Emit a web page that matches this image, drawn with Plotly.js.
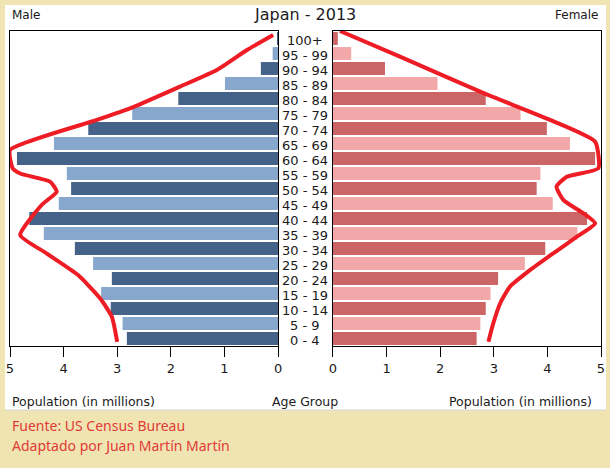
<!DOCTYPE html>
<html>
<head>
<meta charset="utf-8">
<script src="https://cdn.plot.ly/plotly-3.0.1.min.js"></script>
<style>html,body{margin:0;padding:0;background:#f0e4b3;}#chart{width:610px;height:468px;}</style>
</head>
<body>
<div id="chart"></div>
<script>
// Age groups from youngest (bottom) to oldest (top)
const ageGroups = ["0 - 4","5 - 9","10 - 14","15 - 19","20 - 24","25 - 29","30 - 34","35 - 39","40 - 44","45 - 49","50 - 54","55 - 59","60 - 64","65 - 69","70 - 74","75 - 79","80 - 84","85 - 89","90 - 94","95 - 99","100+"];
// Population in millions
const male   = [2.82,2.90,3.12,3.30,3.10,3.45,3.79,4.37,4.64,4.09,3.86,3.94,4.87,4.18,3.54,2.72,1.86,0.99,0.32,0.10,0.02];
const female = [2.68,2.75,2.85,2.94,3.08,3.58,3.96,4.56,4.74,4.10,3.80,3.87,4.89,4.42,3.99,3.50,2.85,1.95,0.97,0.34,0.09];
// Hand-drawn red outline (value in millions, position in age-group units)
const maleLineX   = [3.00,3.10,3.32,3.73,4.32,4.81,4.41,4.13,4.25,4.81,4.95,5.00,3.38,2.70,1.83,1.14,0.58,0.09];
const maleLineY   = [-0.23,1.45,2.68,4.23,5.68,6.90,8.90,9.79,10.45,11.00,11.35,12.57,14.57,15.43,16.79,17.90,19.23,20.23];
const femaleLineX = [2.90,2.99,3.12,3.30,3.68,4.11,4.55,4.89,4.67,4.30,4.17,4.36,4.95,4.89,4.05,2.80,1.25,0.13];
const femaleLineY = [-0.21,1.01,2.35,3.45,4.57,5.68,6.79,7.68,8.35,9.23,10.12,10.78,11.35,13.12,14.57,16.37,18.79,20.50];
const tickVals = [0,1,2,3,4,5];

const yPos = ageGroups.map((_, i) => i);
const maleColors = yPos.map(i => i % 2 === 0 ? '#456288' : '#88a7cc');
const femaleColors = yPos.map(i => i % 2 === 0 ? '#cc6666' : '#f2a8a8');

const traces = [
  {type:'bar', orientation:'h', x:male, y:yPos, xaxis:'x', yaxis:'y',
   marker:{color:maleColors, line:{width:0}}, hoverinfo:'none'},
  {type:'bar', orientation:'h', x:female, y:yPos, xaxis:'x2', yaxis:'y2',
   marker:{color:femaleColors, line:{width:0}}, hoverinfo:'none'},
  {type:'scatter', mode:'lines', x:maleLineX, y:maleLineY, xaxis:'x', yaxis:'y',
   line:{color:'#ee1c24', width:4, shape:'spline', smoothing:0.5}, hoverinfo:'none'},
  {type:'scatter', mode:'lines', x:femaleLineX, y:femaleLineY, xaxis:'x2', yaxis:'y2',
   line:{color:'#ee1c24', width:4, shape:'spline', smoothing:0.5}, hoverinfo:'none'}
];

const fnt = {family:'DejaVu Sans', size:13, color:'#1a1a1a'};
const annotations = ageGroups.map((g, i) => ({
  xref:'paper', yref:'y', x:0.4992, y:i - 0.13, text:g, showarrow:false,
  xanchor:'center', yanchor:'middle', font:fnt
}));
annotations.push(
  {xref:'paper', yref:'paper', x:0.4992, y:1.0508, text:'Japan - 2013', showarrow:false, xanchor:'center', yanchor:'middle', font:{family:'DejaVu Sans', size:16, color:'#1a1a1a'}},
  {xref:'paper', yref:'paper', x:0, y:1.0508, text:'Male', showarrow:false, xanchor:'left', yanchor:'middle', font:{family:'DejaVu Sans', size:12, color:'#1a1a1a'}},
  {xref:'paper', yref:'paper', x:0.9983, y:1.0508, text:'Female', showarrow:false, xanchor:'right', yanchor:'middle', font:{family:'DejaVu Sans', size:12, color:'#1a1a1a'}},
  {xref:'paper', yref:'paper', x:0, y:-0.175, text:'Population (in millions)', showarrow:false, xanchor:'left', yanchor:'middle', font:{family:'DejaVu Sans', size:12.5, color:'#1a1a1a'}},
  {xref:'paper', yref:'paper', x:0.4992, y:-0.175, text:'Age Group', showarrow:false, xanchor:'center', yanchor:'middle', font:{family:'DejaVu Sans', size:12.5, color:'#1a1a1a'}},
  {xref:'paper', yref:'paper', x:0.9877, y:-0.175, text:'Population (in millions)', showarrow:false, xanchor:'right', yanchor:'middle', font:{family:'DejaVu Sans', size:12.5, color:'#1a1a1a'}},
  {xref:'paper', yref:'paper', x:0, y:-0.2508, text:'Fuente: US Census Bureau', showarrow:false, xanchor:'left', yanchor:'middle', font:{family:'Noto Sans', size:14, color:'#e03a35'}},
  {xref:'paper', yref:'paper', x:0, y:-0.3143, text:'Adaptado por Juan Martín Martín', showarrow:false, xanchor:'left', yanchor:'middle', font:{family:'Noto Sans', size:14, color:'#e03a35'}}
);

const xCommon = {tickvals:tickVals, ticks:'outside', ticklen:10, tickcolor:'#000', tickwidth:1,
  showline:true, linecolor:'#000', linewidth:1, mirror:true, showgrid:false, zeroline:false,
  tickfont:{family:'DejaVu Sans', size:13, color:'#1a1a1a'}, fixedrange:true};
const yCommon = {range:[-0.5,20.5], showticklabels:false, ticks:'', showline:true, linecolor:'#000',
  linewidth:1, mirror:true, showgrid:false, zeroline:false, fixedrange:true};

const layout = {
  width:610, height:468,
  margin:{l:10, r:9, t:31, b:122, pad:0},
  paper_bgcolor:'#f0e4b3', plot_bgcolor:'#ffffff',
  showlegend:false, bargap:0.14,
  xaxis:Object.assign({}, xCommon, {domain:[0,0.4535], range:[5,0], anchor:'y'}),
  xaxis2:Object.assign({}, xCommon, {domain:[0.5465,1], range:[0,5], anchor:'y2'}),
  yaxis:Object.assign({}, yCommon, {anchor:'x'}),
  yaxis2:Object.assign({}, yCommon, {anchor:'x2'}),
  annotations:annotations,
  shapes:[
    {type:'rect', xref:'paper', yref:'paper', x0:-0.00846, x1:1.00846, y0:-0.2032, y1:1.0825,
     fillcolor:'#ffffff', line:{width:0}, layer:'below'},
    {type:'line', xref:'paper', yref:'paper', x0:-0.00846, x1:1.00846, y0:-0.2032, y1:-0.2032,
     line:{color:'#d4d4d4', width:1}, layer:'below'}
  ]
};

Plotly.newPlot('chart', traces, layout, {displayModeBar:false, staticPlot:true});
</script>
</body>
</html>
